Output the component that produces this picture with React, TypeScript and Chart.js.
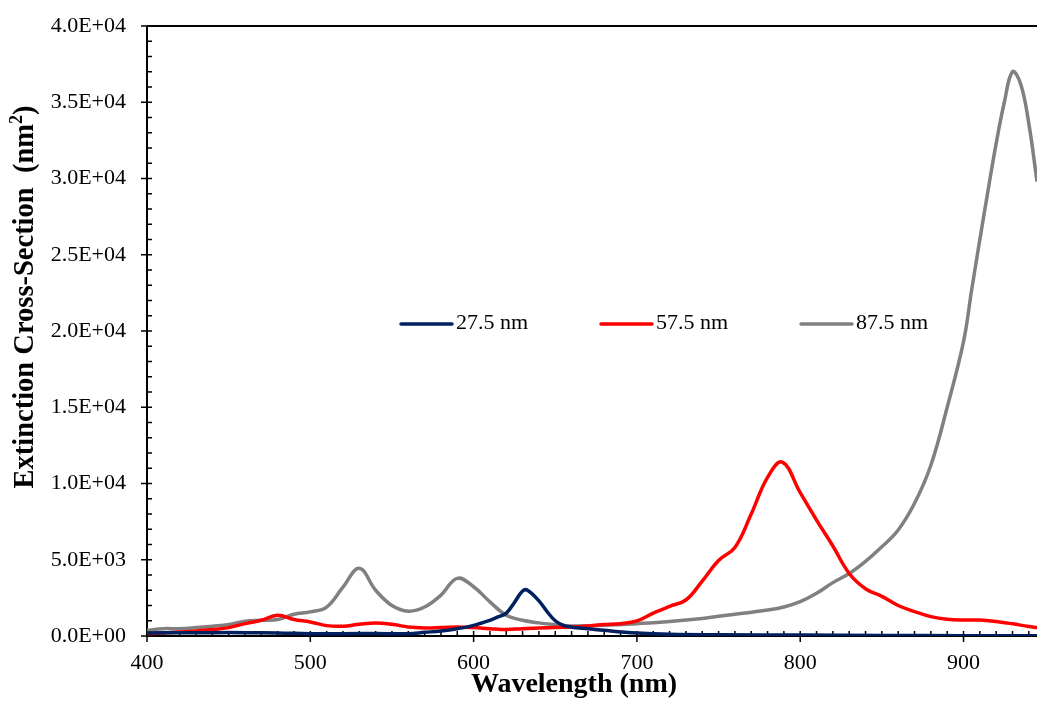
import React, { useEffect, useRef } from "react";
import { Chart, registerables } from "chart.js";

Chart.register(...registerables);

// Extinction spectra for three particle sizes
const seriesLabels = ["27.5 nm", "57.5 nm", "87.5 nm"];
const seriesColors = ["#002060", "#FF0000", "#808080"];

const wavelength27 = [400, 420, 440, 460, 480, 500, 520, 540, 560, 570, 580, 590, 600, 610, 615, 620, 625, 630, 633, 640, 645, 650, 655, 660, 670, 680, 700, 720, 750, 800, 850, 900, 945];
const extinction27 = [200, 210, 220, 220, 200, 150, 150, 160, 150, 240, 330, 480, 700, 1030, 1250, 1500, 2200, 2950, 3000, 2300, 1600, 1000, 700, 580, 480, 370, 200, 110, 80, 60, 40, 20, 10];

const wavelength57 = [400, 410, 420, 430, 440, 450, 460, 470, 480, 490, 500, 510, 520, 530, 540, 550, 560, 570, 580, 590, 600, 610, 620, 630, 640, 650, 660, 670, 680, 690, 700, 710, 720, 730, 740, 750, 760, 770, 780, 789, 800, 810, 820, 830, 840, 850, 860, 870, 880, 890, 900, 910, 920, 930, 940, 945];
const extinction57 = [150, 200, 260, 330, 420, 550, 810, 1030, 1360, 1080, 920, 680, 640, 770, 860, 770, 590, 530, 550, 590, 550, 480, 420, 480, 530, 550, 590, 660, 750, 810, 990, 1500, 1950, 2360, 3600, 4950, 5800, 8000, 10400, 11400, 9400, 7600, 5900, 4100, 3100, 2600, 2000, 1600, 1270, 1100, 1050, 1050, 950, 800, 620, 560];

const wavelength87 = [400, 410, 420, 430, 440, 450, 460, 470, 480, 490, 500, 510, 520, 530, 540, 550, 560, 570, 580, 590, 600, 610, 620, 630, 640, 650, 660, 680, 700, 720, 740, 750, 760, 780, 790, 800, 810, 820, 830, 840, 850, 860, 870, 880, 890, 900, 905, 910, 915, 920, 925, 930, 935, 940, 945];
const extinction87 = [370, 480, 480, 550, 640, 750, 970, 1030, 1080, 1430, 1580, 1900, 3200, 4440, 3000, 2000, 1630, 1900, 2680, 3780, 3230, 2240, 1360, 1030, 860, 750, 660, 700, 810, 950, 1150, 1300, 1420, 1700, 1900, 2250, 2800, 3500, 4100, 4900, 5850, 6950, 8700, 11200, 15000, 19300, 22700, 26000, 29200, 32300, 35000, 37000, 36200, 33600, 29800];

const xTickValues = [400, 500, 600, 700, 800, 900];
const yTickValues = [0, 5000, 10000, 15000, 20000, 25000, 30000, 35000, 40000];

const SERIF = '"Liberation Serif", "Times New Roman", serif';

function toSci(v: number): string {
  if (v === 0) return "0.0E+00";
  const exp = Math.floor(Math.log10(Math.abs(v)) + 1e-9);
  const mant = v / Math.pow(10, exp);
  return mant.toFixed(1) + "E" + (exp >= 0 ? "+" : "-") + String(Math.abs(exp)).padStart(2, "0");
}

function pairs(xs: number[], ys: number[]) {
  return xs.map((x, i) => ({ x, y: ys[i] }));
}

// Frame and Excel-style tick marks (major ticks cross the axis, minor ticks point inward)
const axisFrame = {
  id: "axisFrame",
  beforeDatasetsDraw(chart: any) {
    const { ctx, chartArea: a, scales } = chart;
    const xs = scales.x;
    const ys = scales.y;
    ctx.save();
    ctx.strokeStyle = "#000";
    ctx.lineWidth = 2;
    ctx.beginPath();
    ctx.moveTo(a.left, a.top);
    ctx.lineTo(a.right, a.top);
    ctx.moveTo(a.left, a.top);
    ctx.lineTo(a.left, a.bottom);
    ctx.moveTo(a.left, a.bottom);
    ctx.lineTo(a.right, a.bottom);
    ctx.stroke();

    ctx.lineWidth = 1.5;
    ctx.beginPath();
    for (let v = ys.min; v <= ys.max; v += 1000) {
      const py = ys.getPixelForValue(v);
      const major = v % 5000 === 0;
      ctx.moveTo(a.left - (major ? 6 : 0), py);
      ctx.lineTo(a.left + 5, py);
    }
    for (let v = xs.min; v <= xs.max; v += 10) {
      const px = xs.getPixelForValue(v);
      const major = v % 100 === 0;
      ctx.moveTo(px, a.bottom - 5);
      ctx.lineTo(px, a.bottom + (major ? 6 : 0));
    }
    ctx.stroke();
    ctx.restore();
  },
  afterDraw(chart: any) {
    const { ctx, chartArea: a } = chart;
    ctx.save();
    ctx.fillStyle = "#000";

    // x-axis title
    ctx.font = `bold 28px ${SERIF}`;
    ctx.textAlign = "center";
    ctx.textBaseline = "alphabetic";
    ctx.fillText("Wavelength (nm)", 574, 692);

    // y-axis title with superscript
    const main = "Extinction Cross-Section  (nm";
    const sup = "2";
    const tail = ")";
    const big = `bold 28.5px ${SERIF}`;
    const small = `bold 18px ${SERIF}`;
    ctx.font = big;
    const wMain = ctx.measureText(main).width;
    const wTail = ctx.measureText(tail).width;
    ctx.font = small;
    const wSup = ctx.measureText(sup).width;
    const total = wMain + wSup + wTail;
    ctx.translate(33, 297);
    ctx.rotate(-Math.PI / 2);
    ctx.textAlign = "left";
    let cx = -total / 2;
    ctx.font = big;
    ctx.fillText(main, cx, 0);
    cx += wMain;
    ctx.font = small;
    ctx.fillText(sup, cx, -11);
    cx += wSup;
    ctx.font = big;
    ctx.fillText(tail, cx, 0);
    ctx.setTransform(1, 0, 0, 1, 0, 0);

    // legend inside the plot
    const legendY = 324;
    chart.data.datasets.forEach((ds: any, i: number) => {
      const lx = a.left + 254 + i * 200;
      ctx.strokeStyle = ds.borderColor;
      ctx.lineWidth = 3.5;
      ctx.lineCap = "round";
      ctx.beginPath();
      ctx.moveTo(lx, legendY);
      ctx.lineTo(lx + 51, legendY);
      ctx.stroke();
      ctx.fillStyle = "#000";
      ctx.font = `22px ${SERIF}`;
      ctx.textAlign = "left";
      ctx.textBaseline = "middle";
      ctx.fillText(ds.label, lx + 55, legendY - 1);
    });
    ctx.restore();
  },
};

export default function App() {
  const canvasRef = useRef<HTMLCanvasElement | null>(null);

  useEffect(() => {
    if (!canvasRef.current) return;
    const line = (i: number, xs: number[], ys: number[]) => ({
      label: seriesLabels[i],
      data: pairs(xs, ys),
      borderColor: seriesColors[i],
      backgroundColor: seriesColors[i],
      borderWidth: 3.5,
      borderJoinStyle: "round" as const,
      pointRadius: 0,
      tension: 0.4,
      fill: false,
    });
    const chart = new Chart(canvasRef.current, {
      type: "line",
      data: {
        datasets: [
          line(0, wavelength27, extinction27),
          line(1, wavelength57, extinction57),
          line(2, wavelength87, extinction87),
        ],
      },
      options: {
        animation: false,
        responsive: false,
        devicePixelRatio: 1,
        layout: { padding: { top: 26, right: 0, left: 0, bottom: 0 } },
        plugins: { legend: { display: false }, tooltip: { enabled: false } },
        scales: {
          x: {
            type: "linear",
            min: 400,
            max: 945,
            grid: { display: false, drawTicks: false },
            border: { display: false },
            afterBuildTicks: (s: any) => {
              s.ticks = xTickValues.map((value) => ({ value }));
            },
            afterFit: (s: any) => {
              s.height = 73;
              s.paddingLeft = 0;
              s.paddingRight = 0;
              s.paddingTop = 0;
              s.paddingBottom = 0;
            },
            ticks: {
              color: "#000",
              font: { family: SERIF, size: 22 },
              padding: 14,
              maxRotation: 0,
              autoSkip: false,
            },
          },
          y: {
            type: "linear",
            min: 0,
            max: 40000,
            grid: { display: false, drawTicks: false },
            border: { display: false },
            afterBuildTicks: (s: any) => {
              s.ticks = yTickValues.map((value) => ({ value }));
            },
            afterFit: (s: any) => {
              s.width = 147;
              s.paddingLeft = 0;
              s.paddingRight = 0;
              s.paddingTop = 0;
              s.paddingBottom = 0;
            },
            ticks: {
              color: "#000",
              font: { family: SERIF, size: 22 },
              padding: 21,
              callback: (v: any) => toSci(Number(v)),
            },
          },
        },
      },
      plugins: [axisFrame],
    });
    return () => chart.destroy();
  }, []);

  return (
    <div style={{ position: "absolute", left: 0, top: 0, width: 1037, height: 709, background: "#fff" }}>
      <canvas ref={canvasRef} width={1037} height={709} style={{ display: "block" }} />
    </div>
  );
}
